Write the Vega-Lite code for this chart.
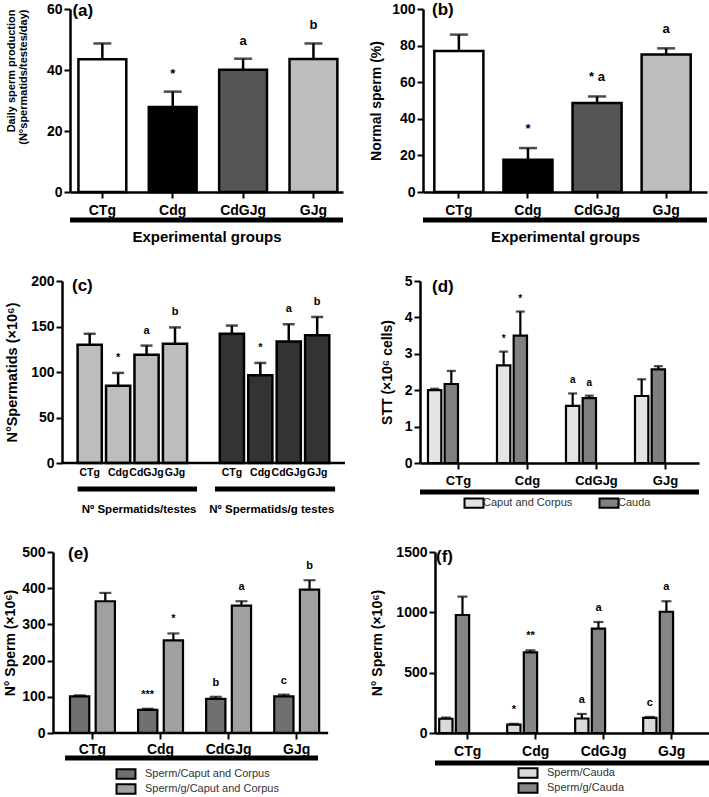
{
  "$schema": "https://vega.github.io/schema/vega-lite/v6.json",
  "padding": {"left": 3, "top": 1, "right": 0, "bottom": 0},
  "background": "white",
  "config": {
    "font": "Liberation Sans",
    "view": {"stroke": null},
    "axis": {"domainColor": "black", "domainWidth": 2.5, "tickColor": "black", "tickWidth": 2, "tickSize": 6, "labelColor": "black", "labelFontWeight": "bold", "titleColor": "black", "titleFontWeight": "bold", "grid": false, "labelAngle": 0},
    "axisY": {"labelFontSize": 14, "titleFontSize": 14},
    "axisX": {"labelFontSize": 14},
    "legend": {"layout": {"bottom": {"anchor": "middle"}}},
    "title": {"color": "black"}
  },
  "datasets": {
    "a": [
      {"g": "CTg", "v": 43.5, "hi": 48.7, "lab": ""},
      {"g": "Cdg", "v": 27.9, "hi": 32.9, "lab": "*"},
      {"g": "CdGJg", "v": 40.1, "hi": 43.7, "lab": "a"},
      {"g": "GJg", "v": 43.6, "hi": 48.7, "lab": "b"}
    ],
    "b": [
      {"g": "CTg", "v": 77, "hi": 86, "lab": ""},
      {"g": "Cdg", "v": 17.6, "hi": 24, "lab": "*"},
      {"g": "CdGJg", "v": 48.6, "hi": 52.2, "lab": "* a"},
      {"g": "GJg", "v": 75.2, "hi": 78.5, "lab": "a"}
    ],
    "c": [
      {"s": "CTg1", "set": "1", "v": 130, "hi": 142, "lab": ""},
      {"s": "Cdg1", "set": "1", "v": 85, "hi": 99, "lab": "*"},
      {"s": "CdGJg1", "set": "1", "v": 119, "hi": 129, "lab": "a"},
      {"s": "GJg1", "set": "1", "v": 131, "hi": 149, "lab": "b"},
      {"s": "CTg2", "set": "2", "v": 142, "hi": 151, "lab": ""},
      {"s": "Cdg2", "set": "2", "v": 96.5, "hi": 110, "lab": "*"},
      {"s": "CdGJg2", "set": "2", "v": 133.5, "hi": 152.5, "lab": "a"},
      {"s": "GJg2", "set": "2", "v": 140.5, "hi": 160.5, "lab": "b"}
    ],
    "d": [
      {"g": "CTg", "ser": "Caput and Corpus", "v": 2.0, "hi": 2.04, "lab": ""},
      {"g": "CTg", "ser": "Cauda", "v": 2.17, "hi": 2.53, "lab": ""},
      {"g": "Cdg", "ser": "Caput and Corpus", "v": 2.68, "hi": 3.06, "lab": "*"},
      {"g": "Cdg", "ser": "Cauda", "v": 3.5, "hi": 4.16, "lab": "*"},
      {"g": "CdGJg", "ser": "Caput and Corpus", "v": 1.57, "hi": 1.91, "lab": "a"},
      {"g": "CdGJg", "ser": "Cauda", "v": 1.78, "hi": 1.85, "lab": "a"},
      {"g": "GJg", "ser": "Caput and Corpus", "v": 1.84, "hi": 2.3, "lab": ""},
      {"g": "GJg", "ser": "Cauda", "v": 2.57, "hi": 2.66, "lab": ""}
    ],
    "e": [
      {"g": "CTg", "ser": "Sperm/Caput and Corpus", "v": 101, "hi": 104, "lab": ""},
      {"g": "CTg", "ser": "Sperm/g/Caput and Corpus", "v": 364, "hi": 387, "lab": ""},
      {"g": "Cdg", "ser": "Sperm/Caput and Corpus", "v": 64, "hi": 67, "lab": "***"},
      {"g": "Cdg", "ser": "Sperm/g/Caput and Corpus", "v": 256, "hi": 275, "lab": "*"},
      {"g": "CdGJg", "ser": "Sperm/Caput and Corpus", "v": 94, "hi": 100, "lab": "b"},
      {"g": "CdGJg", "ser": "Sperm/g/Caput and Corpus", "v": 352, "hi": 364, "lab": "a"},
      {"g": "GJg", "ser": "Sperm/Caput and Corpus", "v": 101, "hi": 106, "lab": "c"},
      {"g": "GJg", "ser": "Sperm/g/Caput and Corpus", "v": 396, "hi": 422, "lab": "b"}
    ],
    "f": [
      {"g": "CTg", "ser": "Sperm/Cauda", "v": 118, "hi": 128, "lab": ""},
      {"g": "CTg", "ser": "Sperm/g/Cauda", "v": 978, "hi": 1130, "lab": ""},
      {"g": "Cdg", "ser": "Sperm/Cauda", "v": 70, "hi": 76, "lab": "*"},
      {"g": "Cdg", "ser": "Sperm/g/Cauda", "v": 668, "hi": 685, "lab": "**"},
      {"g": "CdGJg", "ser": "Sperm/Cauda", "v": 120, "hi": 158, "lab": "a"},
      {"g": "CdGJg", "ser": "Sperm/g/Cauda", "v": 865, "hi": 920, "lab": "a"},
      {"g": "GJg", "ser": "Sperm/Cauda", "v": 125, "hi": 133, "lab": "c"},
      {"g": "GJg", "ser": "Sperm/g/Cauda", "v": 1005, "hi": 1092, "lab": "a"}
    ]
  },
  "resolve": {"scale": {"fill": "independent", "xOffset": "independent"}, "legend": {"fill": "independent"}},
  "spacing": 30,
  "vconcat": [
    {
      "spacing": 23,
      "resolve": {"scale": {"fill": "independent", "xOffset": "independent"}, "legend": {"fill": "independent"}},
      "hconcat": [
        {
          "width": 273, "height": 183,
          "data": {"name": "a"},
          "layer": [
            {"mark": {"type": "bar", "stroke": "black", "strokeWidth": 2.5},
             "encoding": {
               "x": {"field": "g", "type": "nominal", "scale": {"domain": ["CTg", "Cdg", "CdGJg", "GJg"], "paddingInner": 0.32, "paddingOuter": 0.1, "align": 0.6}, "axis": {"title": "Experimental groups", "titleFontSize": 15, "titlePadding": 12, "labelFontSize": 14, "labelPadding": 5, "labelOverlap": false}},
               "y": {"field": "v", "type": "quantitative", "scale": {"domain": [0, 60], "nice": false}, "axis": {"title": ["Daily sperm production", "(N°spermatids/testes/day)"], "titleAnchor": "end", "titleFontSize": 11, "titleLineHeight": 12, "titlePadding": 18, "values": [0, 20, 40, 60], "labelFontSize": 14}},
               "fill": {"field": "g", "type": "nominal", "scale": {"domain": ["CTg", "Cdg", "CdGJg", "GJg"], "range": ["#ffffff", "#000000", "#555555", "#bdbdbd"]}, "legend": null}}},
            {"mark": {"type": "rule", "color": "black", "strokeWidth": 2.5},
             "encoding": {
               "x": {"field": "g", "type": "nominal", "axis": {"title": "Experimental groups", "titleFontSize": 15, "titlePadding": 12, "labelFontSize": 14, "labelPadding": 5, "labelOverlap": false}},
               "y": {"field": "v", "type": "quantitative", "scale": {"domain": [0, 60], "nice": false}, "axis": {"title": ["Daily sperm production", "(N°spermatids/testes/day)"], "titleAnchor": "end", "titleFontSize": 11, "titleLineHeight": 12, "titlePadding": 18, "values": [0, 20, 40, 60], "labelFontSize": 14}},
               "y2": {"field": "hi"}}},
            {"mark": {"type": "tick", "color": "black", "thickness": 2.5, "size": 18},
             "encoding": {
               "x": {"field": "g", "type": "nominal", "axis": {"title": "Experimental groups", "titleFontSize": 15, "titlePadding": 12, "labelFontSize": 14, "labelPadding": 5, "labelOverlap": false}},
               "y": {"field": "hi", "type": "quantitative", "scale": {"domain": [0, 60], "nice": false}, "axis": {"title": ["Daily sperm production", "(N°spermatids/testes/day)"], "titleAnchor": "end", "titleFontSize": 11, "titleLineHeight": 12, "titlePadding": 18, "values": [0, 20, 40, 60], "labelFontSize": 14}}}},
            {"mark": {"type": "text", "fontSize": 13, "fontWeight": "bold", "dy": -14, "baseline": "alphabetic", "color": "black"},
             "encoding": {
               "x": {"field": "g", "type": "nominal", "axis": {"title": "Experimental groups", "titleFontSize": 15, "titlePadding": 12, "labelFontSize": 14, "labelPadding": 5, "labelOverlap": false}},
               "y": {"field": "hi", "type": "quantitative", "scale": {"domain": [0, 60], "nice": false}, "axis": {"title": ["Daily sperm production", "(N°spermatids/testes/day)"], "titleAnchor": "end", "titleFontSize": 11, "titleLineHeight": 12, "titlePadding": 18, "values": [0, 20, 40, 60], "labelFontSize": 14}},
               "text": {"field": "lab"}}},
            {"data": {"values": [{}]}, "mark": {"type": "rule", "color": "black", "strokeWidth": 5},
             "encoding": {"y": {"datum": -9.2, "type": "quantitative", "scale": {"domain": [0, 60], "nice": false}, "axis": {"title": ["Daily sperm production", "(N°spermatids/testes/day)"], "titleAnchor": "end", "titleFontSize": 11, "titleLineHeight": 12, "titlePadding": 18, "values": [0, 20, 40, 60], "labelFontSize": 14}}}},
            {"data": {"values": [{}]}, "mark": {"type": "text", "text": "(a)", "fontSize": 17, "fontWeight": "bold", "align": "left", "baseline": "middle", "dx": -6, "dy": 2, "color": "black"},
             "encoding": {
               "x": {"datum": "CTg", "type": "nominal", "bandPosition": 0, "axis": {"title": "Experimental groups", "titleFontSize": 15, "titlePadding": 12, "labelFontSize": 14, "labelPadding": 5, "labelOverlap": false}},
               "y": {"datum": 60, "type": "quantitative", "scale": {"domain": [0, 60], "nice": false}, "axis": {"title": ["Daily sperm production", "(N°spermatids/testes/day)"], "titleAnchor": "end", "titleFontSize": 11, "titleLineHeight": 12, "titlePadding": 18, "values": [0, 20, 40, 60], "labelFontSize": 14}}}}
          ]
        },
        {
          "width": 284, "height": 183,
          "data": {"name": "b"},
          "layer": [
            {"mark": {"type": "bar", "stroke": "black", "strokeWidth": 2.5},
             "encoding": {
               "x": {"field": "g", "type": "nominal", "scale": {"domain": ["CTg", "Cdg", "CdGJg", "GJg"], "paddingInner": 0.29, "paddingOuter": 0.2, "align": 0.41}, "axis": {"title": "Experimental groups", "titleFontSize": 15, "titlePadding": 12, "labelFontSize": 14, "labelPadding": 5, "labelOverlap": false}},
               "y": {"field": "v", "type": "quantitative", "scale": {"domain": [0, 100], "nice": false}, "axis": {"title": "Normal sperm (%)", "titleFontSize": 14, "titlePadding": 8, "values": [0, 20, 40, 60, 80, 100], "labelFontSize": 14}},
               "fill": {"field": "g", "type": "nominal", "scale": {"domain": ["CTg", "Cdg", "CdGJg", "GJg"], "range": ["#ffffff", "#000000", "#555555", "#bdbdbd"]}, "legend": null}}},
            {"mark": {"type": "rule", "color": "black", "strokeWidth": 2.5},
             "encoding": {
               "x": {"field": "g", "type": "nominal", "axis": {"title": "Experimental groups", "titleFontSize": 15, "titlePadding": 12, "labelFontSize": 14, "labelPadding": 5, "labelOverlap": false}},
               "y": {"field": "v", "type": "quantitative", "scale": {"domain": [0, 100], "nice": false}, "axis": {"title": "Normal sperm (%)", "titleFontSize": 14, "titlePadding": 8, "values": [0, 20, 40, 60, 80, 100], "labelFontSize": 14}},
               "y2": {"field": "hi"}}},
            {"mark": {"type": "tick", "color": "black", "thickness": 2.5, "size": 18},
             "encoding": {
               "x": {"field": "g", "type": "nominal", "axis": {"title": "Experimental groups", "titleFontSize": 15, "titlePadding": 12, "labelFontSize": 14, "labelPadding": 5, "labelOverlap": false}},
               "y": {"field": "hi", "type": "quantitative", "scale": {"domain": [0, 100], "nice": false}, "axis": {"title": "Normal sperm (%)", "titleFontSize": 14, "titlePadding": 8, "values": [0, 20, 40, 60, 80, 100], "labelFontSize": 14}}}},
            {"mark": {"type": "text", "fontSize": 13, "fontWeight": "bold", "dy": -15, "baseline": "alphabetic", "color": "black"},
             "encoding": {
               "x": {"field": "g", "type": "nominal", "axis": {"title": "Experimental groups", "titleFontSize": 15, "titlePadding": 12, "labelFontSize": 14, "labelPadding": 5, "labelOverlap": false}},
               "y": {"field": "hi", "type": "quantitative", "scale": {"domain": [0, 100], "nice": false}, "axis": {"title": "Normal sperm (%)", "titleFontSize": 14, "titlePadding": 8, "values": [0, 20, 40, 60, 80, 100], "labelFontSize": 14}},
               "text": {"field": "lab"}}},
            {"data": {"values": [{}]}, "mark": {"type": "rule", "color": "black", "strokeWidth": 5},
             "encoding": {"y": {"datum": -15.3, "type": "quantitative", "scale": {"domain": [0, 100], "nice": false}, "axis": {"title": "Normal sperm (%)", "titleFontSize": 14, "titlePadding": 8, "values": [0, 20, 40, 60, 80, 100], "labelFontSize": 14}}}},
            {"data": {"values": [{}]}, "mark": {"type": "text", "text": "(b)", "fontSize": 17, "fontWeight": "bold", "align": "left", "baseline": "middle", "dx": -2.3, "dy": 1, "color": "black"},
             "encoding": {
               "x": {"datum": "CTg", "type": "nominal", "bandPosition": 0, "axis": {"title": "Experimental groups", "titleFontSize": 15, "titlePadding": 12, "labelFontSize": 14, "labelPadding": 5, "labelOverlap": false}},
               "y": {"datum": 100, "type": "quantitative", "scale": {"domain": [0, 100], "nice": false}, "axis": {"title": "Normal sperm (%)", "titleFontSize": 14, "titlePadding": 8, "values": [0, 20, 40, 60, 80, 100], "labelFontSize": 14}}}}
          ]
        }
      ]
    },
    {
      "spacing": 33,
      "resolve": {"scale": {"fill": "independent", "xOffset": "independent"}, "legend": {"fill": "independent"}},
      "hconcat": [
        {
          "width": 275, "height": 182,
          "data": {"name": "c"},
          "layer": [
            {"mark": {"type": "bar", "stroke": "black", "strokeWidth": 2.5},
             "encoding": {
               "x": {"field": "s", "type": "nominal", "scale": {"domain": ["CTg1", "Cdg1", "CdGJg1", "GJg1", "gap", "CTg2", "Cdg2", "CdGJg2", "GJg2"], "paddingInner": 0.15, "paddingOuter": 0.41, "align": 0.326}, "axis": {"title": "\u00a0\u00a0\u00a0\u00a0\u00a0\u00a0\u00a0\u00a0Nº Spermatids/testes\u00a0\u00a0\u00a0\u00a0Nº Spermatids/g testes", "titleFontSize": 11.5, "titlePadding": 26, "labelFontSize": 10.5, "labelPadding": 4, "ticks": false, "domain": false, "labelOverlap": false, "labelExpr": "datum.value == 'gap' ? '' : slice(datum.value, 0, -1)"}},
               "y": {"field": "v", "type": "quantitative", "scale": {"domain": [0, 200], "nice": false}, "axis": {"title": "N°Spermatids (×10⁶)", "titleFontSize": 14.5, "titlePadding": 11, "values": [0, 50, 100, 150, 200], "labelFontSize": 14, "offset": 8}},
               "fill": {"field": "set", "type": "nominal", "scale": {"domain": ["1", "2"], "range": ["#bdbdbd", "#333333"]}, "legend": null}}},
            {"mark": {"type": "rule", "color": "black", "strokeWidth": 2.5},
             "encoding": {
               "x": {"field": "s", "type": "nominal", "axis": {"title": "\u00a0\u00a0\u00a0\u00a0\u00a0\u00a0\u00a0\u00a0Nº Spermatids/testes\u00a0\u00a0\u00a0\u00a0Nº Spermatids/g testes", "titleFontSize": 11.5, "titlePadding": 26, "labelFontSize": 10.5, "labelPadding": 4, "ticks": false, "domain": false, "labelOverlap": false, "labelExpr": "datum.value == 'gap' ? '' : slice(datum.value, 0, -1)"}},
               "y": {"field": "v", "type": "quantitative", "scale": {"domain": [0, 200], "nice": false}, "axis": {"title": "N°Spermatids (×10⁶)", "titleFontSize": 14.5, "titlePadding": 11, "values": [0, 50, 100, 150, 200], "labelFontSize": 14, "offset": 8}},
               "y2": {"field": "hi"}}},
            {"mark": {"type": "tick", "color": "black", "thickness": 2.5, "size": 12},
             "encoding": {
               "x": {"field": "s", "type": "nominal", "axis": {"title": "\u00a0\u00a0\u00a0\u00a0\u00a0\u00a0\u00a0\u00a0Nº Spermatids/testes\u00a0\u00a0\u00a0\u00a0Nº Spermatids/g testes", "titleFontSize": 11.5, "titlePadding": 26, "labelFontSize": 10.5, "labelPadding": 4, "ticks": false, "domain": false, "labelOverlap": false, "labelExpr": "datum.value == 'gap' ? '' : slice(datum.value, 0, -1)"}},
               "y": {"field": "hi", "type": "quantitative", "scale": {"domain": [0, 200], "nice": false}, "axis": {"title": "N°Spermatids (×10⁶)", "titleFontSize": 14.5, "titlePadding": 11, "values": [0, 50, 100, 150, 200], "labelFontSize": 14, "offset": 8}}}},
            {"mark": {"type": "text", "fontSize": 11, "fontWeight": "bold", "dy": -12, "baseline": "alphabetic", "color": "black"},
             "encoding": {
               "x": {"field": "s", "type": "nominal", "axis": {"title": "\u00a0\u00a0\u00a0\u00a0\u00a0\u00a0\u00a0\u00a0Nº Spermatids/testes\u00a0\u00a0\u00a0\u00a0Nº Spermatids/g testes", "titleFontSize": 11.5, "titlePadding": 26, "labelFontSize": 10.5, "labelPadding": 4, "ticks": false, "domain": false, "labelOverlap": false, "labelExpr": "datum.value == 'gap' ? '' : slice(datum.value, 0, -1)"}},
               "y": {"field": "hi", "type": "quantitative", "scale": {"domain": [0, 200], "nice": false}, "axis": {"title": "N°Spermatids (×10⁶)", "titleFontSize": 14.5, "titlePadding": 11, "values": [0, 50, 100, 150, 200], "labelFontSize": 14, "offset": 8}},
               "text": {"field": "lab"}}},
            {"data": {"values": [{}]}, "mark": {"type": "rule", "color": "black", "strokeWidth": 2.5},
             "encoding": {
               "x": {"datum": "CTg1", "type": "nominal", "bandPosition": -0.645, "axis": {"title": "\u00a0\u00a0\u00a0\u00a0\u00a0\u00a0\u00a0\u00a0Nº Spermatids/testes\u00a0\u00a0\u00a0\u00a0Nº Spermatids/g testes", "titleFontSize": 11.5, "titlePadding": 26, "labelFontSize": 10.5, "labelPadding": 4, "ticks": false, "domain": false, "labelOverlap": false, "labelExpr": "datum.value == 'gap' ? '' : slice(datum.value, 0, -1)"}},
               "x2": {"datum": "GJg2", "bandPosition": 1.65},
               "y": {"datum": 0, "type": "quantitative", "scale": {"domain": [0, 200], "nice": false}, "axis": {"title": "N°Spermatids (×10⁶)", "titleFontSize": 14.5, "titlePadding": 11, "values": [0, 50, 100, 150, 200], "labelFontSize": 14, "offset": 8}}}},
            {"data": {"values": [{}]}, "mark": {"type": "rule", "color": "black", "strokeWidth": 5},
             "encoding": {
               "x": {"datum": "CTg1", "type": "nominal", "bandPosition": 0, "axis": {"title": "\u00a0\u00a0\u00a0\u00a0\u00a0\u00a0\u00a0\u00a0Nº Spermatids/testes\u00a0\u00a0\u00a0\u00a0Nº Spermatids/g testes", "titleFontSize": 11.5, "titlePadding": 26, "labelFontSize": 10.5, "labelPadding": 4, "ticks": false, "domain": false, "labelOverlap": false, "labelExpr": "datum.value == 'gap' ? '' : slice(datum.value, 0, -1)"}},
               "x2": {"datum": "GJg1", "bandPosition": 1.41},
               "y": {"datum": -28.6, "type": "quantitative", "scale": {"domain": [0, 200], "nice": false}, "axis": {"title": "N°Spermatids (×10⁶)", "titleFontSize": 14.5, "titlePadding": 11, "values": [0, 50, 100, 150, 200], "labelFontSize": 14, "offset": 8}}}},
            {"data": {"values": [{}]}, "mark": {"type": "rule", "color": "black", "strokeWidth": 5},
             "encoding": {
               "x": {"datum": "CTg2", "type": "nominal", "bandPosition": -0.2, "axis": {"title": "\u00a0\u00a0\u00a0\u00a0\u00a0\u00a0\u00a0\u00a0Nº Spermatids/testes\u00a0\u00a0\u00a0\u00a0Nº Spermatids/g testes", "titleFontSize": 11.5, "titlePadding": 26, "labelFontSize": 10.5, "labelPadding": 4, "ticks": false, "domain": false, "labelOverlap": false, "labelExpr": "datum.value == 'gap' ? '' : slice(datum.value, 0, -1)"}},
               "x2": {"datum": "GJg2", "bandPosition": 1.24},
               "y": {"datum": -28.6, "type": "quantitative", "scale": {"domain": [0, 200], "nice": false}, "axis": {"title": "N°Spermatids (×10⁶)", "titleFontSize": 14.5, "titlePadding": 11, "values": [0, 50, 100, 150, 200], "labelFontSize": 14, "offset": 8}}}},
            {"data": {"values": [{}]}, "mark": {"type": "text", "text": "(c)", "fontSize": 17, "fontWeight": "bold", "align": "left", "baseline": "middle", "dx": -5.6, "dy": 5, "color": "black"},
             "encoding": {
               "x": {"datum": "CTg1", "type": "nominal", "bandPosition": 0, "axis": {"title": "\u00a0\u00a0\u00a0\u00a0\u00a0\u00a0\u00a0\u00a0Nº Spermatids/testes\u00a0\u00a0\u00a0\u00a0Nº Spermatids/g testes", "titleFontSize": 11.5, "titlePadding": 26, "labelFontSize": 10.5, "labelPadding": 4, "ticks": false, "domain": false, "labelOverlap": false, "labelExpr": "datum.value == 'gap' ? '' : slice(datum.value, 0, -1)"}},
               "y": {"datum": 200, "type": "quantitative", "scale": {"domain": [0, 200], "nice": false}, "axis": {"title": "N°Spermatids (×10⁶)", "titleFontSize": 14.5, "titlePadding": 11, "values": [0, 50, 100, 150, 200], "labelFontSize": 14, "offset": 8}}}}
          ]
        },
        {
          "width": 279, "height": 182,
          "data": {"name": "d"},
          "layer": [
            {"mark": {"type": "bar", "stroke": "black", "strokeWidth": 2.2},
             "encoding": {
               "x": {"field": "g", "type": "nominal", "scale": {"domain": ["CTg", "Cdg", "CdGJg", "GJg"], "paddingInner": 0.565, "paddingOuter": 0.304, "align": 0.19}, "axis": {"title": null, "labelFontSize": 13, "labelPadding": 5, "tickOffset": 15, "labelOverlap": false}},
               "xOffset": {"field": "ser", "type": "nominal", "scale": {"domain": ["Caput and Corpus", "Cauda"], "paddingInner": 0.2, "paddingOuter": 0}},
               "y": {"field": "v", "type": "quantitative", "scale": {"domain": [0, 5], "nice": false}, "axis": {"title": "STT (×10⁶ cells)", "titleFontSize": 14, "titlePadding": 10, "values": [0, 1, 2, 3, 4, 5], "labelFontSize": 14}},
               "fill": {"field": "ser", "type": "nominal", "scale": {"domain": ["Caput and Corpus", "Cauda"], "range": ["#e4e4e4", "#808080"]},
                        "legend": {"orient": "bottom", "direction": "horizontal", "title": null, "symbolType": "M-2,-1H2V1H-2Z", "symbolSize": 90, "symbolStrokeColor": "black", "symbolStrokeWidth": 2, "labelFontSize": 11, "labelColor": "#333333", "columnPadding": 22, "labelOffset": 3, "offset": 10}}}},
            {"mark": {"type": "rule", "color": "black", "strokeWidth": 2.2},
             "encoding": {
               "x": {"field": "g", "type": "nominal", "axis": {"title": null, "labelFontSize": 13, "labelPadding": 5, "tickOffset": 15, "labelOverlap": false}},
               "xOffset": {"field": "ser", "type": "nominal"},
               "y": {"field": "v", "type": "quantitative", "scale": {"domain": [0, 5], "nice": false}, "axis": {"title": "STT (×10⁶ cells)", "titleFontSize": 14, "titlePadding": 10, "values": [0, 1, 2, 3, 4, 5], "labelFontSize": 14}},
               "y2": {"field": "hi"}}},
            {"mark": {"type": "tick", "color": "black", "thickness": 2.2, "size": 9},
             "encoding": {
               "x": {"field": "g", "type": "nominal", "axis": {"title": null, "labelFontSize": 13, "labelPadding": 5, "tickOffset": 15, "labelOverlap": false}},
               "xOffset": {"field": "ser", "type": "nominal"},
               "y": {"field": "hi", "type": "quantitative", "scale": {"domain": [0, 5], "nice": false}, "axis": {"title": "STT (×10⁶ cells)", "titleFontSize": 14, "titlePadding": 10, "values": [0, 1, 2, 3, 4, 5], "labelFontSize": 14}}}},
            {"mark": {"type": "text", "fontSize": 10, "fontWeight": "bold", "dy": -10, "baseline": "alphabetic", "color": "black"},
             "encoding": {
               "x": {"field": "g", "type": "nominal", "axis": {"title": null, "labelFontSize": 13, "labelPadding": 5, "tickOffset": 15, "labelOverlap": false}},
               "xOffset": {"field": "ser", "type": "nominal"},
               "y": {"field": "hi", "type": "quantitative", "scale": {"domain": [0, 5], "nice": false}, "axis": {"title": "STT (×10⁶ cells)", "titleFontSize": 14, "titlePadding": 10, "values": [0, 1, 2, 3, 4, 5], "labelFontSize": 14}},
               "text": {"field": "lab"}}},
            {"data": {"values": [{}]}, "mark": {"type": "rule", "color": "black", "strokeWidth": 5},
             "encoding": {"y": {"datum": -0.8, "type": "quantitative", "scale": {"domain": [0, 5], "nice": false}, "axis": {"title": "STT (×10⁶ cells)", "titleFontSize": 14, "titlePadding": 10, "values": [0, 1, 2, 3, 4, 5], "labelFontSize": 14}}}},
            {"data": {"values": [{}]}, "mark": {"type": "text", "text": "(d)", "fontSize": 17, "fontWeight": "bold", "align": "left", "baseline": "middle", "dx": 4, "dy": 6, "color": "black"},
             "encoding": {
               "x": {"datum": "CTg", "type": "nominal", "bandPosition": 0, "axis": {"title": null, "labelFontSize": 13, "labelPadding": 5, "tickOffset": 15, "labelOverlap": false}},
               "y": {"datum": 5, "type": "quantitative", "scale": {"domain": [0, 5], "nice": false}, "axis": {"title": "STT (×10⁶ cells)", "titleFontSize": 14, "titlePadding": 10, "values": [0, 1, 2, 3, 4, 5], "labelFontSize": 14}}}}
          ]
        }
      ]
    },
    {
      "spacing": 40,
      "resolve": {"scale": {"fill": "independent", "xOffset": "independent"}, "legend": {"fill": "independent"}},
      "hconcat": [
        {
          "width": 258, "height": 181,
          "data": {"name": "e"},
          "layer": [
            {"mark": {"type": "bar", "stroke": "black", "strokeWidth": 2.2},
             "encoding": {
               "x": {"field": "g", "type": "nominal", "scale": {"domain": ["CTg", "Cdg", "CdGJg", "GJg"], "paddingInner": 0.34, "paddingOuter": 0.065, "align": 0}, "axis": {"title": null, "labelFontSize": 14, "labelPadding": 3, "domain": false, "labelOverlap": false}},
               "xOffset": {"field": "ser", "type": "nominal", "scale": {"domain": ["Sperm/Caput and Corpus", "Sperm/g/Caput and Corpus"], "paddingInner": 0.25, "paddingOuter": 0}},
               "y": {"field": "v", "type": "quantitative", "scale": {"domain": [0, 500], "nice": false}, "axis": {"title": "N° Sperm (×10⁶)", "titleFontSize": 14, "titlePadding": 4, "values": [0, 100, 200, 300, 400, 500], "labelFontSize": 14, "offset": 17}},
               "fill": {"field": "ser", "type": "nominal", "scale": {"domain": ["Sperm/Caput and Corpus", "Sperm/g/Caput and Corpus"], "range": ["#707070", "#a0a0a0"]},
                        "legend": {"orient": "bottom", "direction": "vertical", "title": null, "symbolType": "M-2,-1H2V1H-2Z", "symbolSize": 90, "symbolStrokeColor": "black", "symbolStrokeWidth": 2, "labelFontSize": 11, "labelColor": "#333333", "rowPadding": -6, "labelOffset": 13, "offset": 12}}}},
            {"mark": {"type": "rule", "color": "black", "strokeWidth": 2.2},
             "encoding": {
               "x": {"field": "g", "type": "nominal", "axis": {"title": null, "labelFontSize": 14, "labelPadding": 3, "domain": false, "labelOverlap": false}},
               "xOffset": {"field": "ser", "type": "nominal"},
               "y": {"field": "v", "type": "quantitative", "scale": {"domain": [0, 500], "nice": false}, "axis": {"title": "N° Sperm (×10⁶)", "titleFontSize": 14, "titlePadding": 4, "values": [0, 100, 200, 300, 400, 500], "labelFontSize": 14, "offset": 17}},
               "y2": {"field": "hi"}}},
            {"mark": {"type": "tick", "color": "black", "thickness": 2.2, "size": 12},
             "encoding": {
               "x": {"field": "g", "type": "nominal", "axis": {"title": null, "labelFontSize": 14, "labelPadding": 3, "domain": false, "labelOverlap": false}},
               "xOffset": {"field": "ser", "type": "nominal"},
               "y": {"field": "hi", "type": "quantitative", "scale": {"domain": [0, 500], "nice": false}, "axis": {"title": "N° Sperm (×10⁶)", "titleFontSize": 14, "titlePadding": 4, "values": [0, 100, 200, 300, 400, 500], "labelFontSize": 14, "offset": 17}}}},
            {"mark": {"type": "text", "fontSize": 11, "fontWeight": "bold", "dy": -11, "baseline": "alphabetic", "color": "black"},
             "encoding": {
               "x": {"field": "g", "type": "nominal", "axis": {"title": null, "labelFontSize": 14, "labelPadding": 3, "domain": false, "labelOverlap": false}},
               "xOffset": {"field": "ser", "type": "nominal"},
               "y": {"field": "hi", "type": "quantitative", "scale": {"domain": [0, 500], "nice": false}, "axis": {"title": "N° Sperm (×10⁶)", "titleFontSize": 14, "titlePadding": 4, "values": [0, 100, 200, 300, 400, 500], "labelFontSize": 14, "offset": 17}},
               "text": {"field": "lab"}}},
            {"data": {"values": [{}]}, "mark": {"type": "rule", "color": "black", "strokeWidth": 2.5},
             "encoding": {
               "x": {"datum": "CTg", "type": "nominal", "bandPosition": -0.38, "axis": {"title": null, "labelFontSize": 14, "labelPadding": 3, "domain": false, "labelOverlap": false}},
               "x2": {"datum": "GJg", "bandPosition": 1.2},
               "y": {"datum": 0, "type": "quantitative", "scale": {"domain": [0, 500], "nice": false}, "axis": {"title": "N° Sperm (×10⁶)", "titleFontSize": 14, "titlePadding": 4, "values": [0, 100, 200, 300, 400, 500], "labelFontSize": 14, "offset": 17}}}},
            {"data": {"values": [{}]}, "mark": {"type": "rule", "color": "black", "strokeWidth": 5},
             "encoding": {
               "x": {"datum": "CTg", "type": "nominal", "bandPosition": -0.11, "axis": {"title": null, "labelFontSize": 14, "labelPadding": 3, "domain": false, "labelOverlap": false}},
               "x2": {"datum": "GJg", "bandPosition": 0.975},
               "y": {"datum": -69, "type": "quantitative", "scale": {"domain": [0, 500], "nice": false}, "axis": {"title": "N° Sperm (×10⁶)", "titleFontSize": 14, "titlePadding": 4, "values": [0, 100, 200, 300, 400, 500], "labelFontSize": 14, "offset": 17}}}},
            {"data": {"values": [{}]}, "mark": {"type": "text", "text": "(e)", "fontSize": 17, "fontWeight": "bold", "align": "left", "baseline": "middle", "dx": -2, "dy": 2, "color": "black"},
             "encoding": {
               "x": {"datum": "CTg", "type": "nominal", "bandPosition": 0, "axis": {"title": null, "labelFontSize": 14, "labelPadding": 3, "domain": false, "labelOverlap": false}},
               "y": {"datum": 500, "type": "quantitative", "scale": {"domain": [0, 500], "nice": false}, "axis": {"title": "N° Sperm (×10⁶)", "titleFontSize": 14, "titlePadding": 4, "values": [0, 100, 200, 300, 400, 500], "labelFontSize": 14, "offset": 17}}}}
          ]
        },
        {
          "width": 276, "height": 181,
          "data": {"name": "f"},
          "layer": [
            {"mark": {"type": "bar", "stroke": "black", "strokeWidth": 2.2},
             "encoding": {
               "x": {"field": "g", "type": "nominal", "scale": {"domain": ["CTg", "Cdg", "CdGJg", "GJg"], "paddingInner": 0.56, "paddingOuter": 0.31, "align": 0.1}, "axis": {"title": null, "labelFontSize": 14, "labelPadding": 5, "tickOffset": 13, "labelOverlap": false}},
               "xOffset": {"field": "ser", "type": "nominal", "scale": {"domain": ["Sperm/Cauda", "Sperm/g/Cauda"], "paddingInner": 0.2, "paddingOuter": 0}},
               "y": {"field": "v", "type": "quantitative", "scale": {"domain": [0, 1500], "nice": false}, "axis": {"title": "N° Sperm (×10⁶)", "titleFontSize": 14, "titlePadding": 11, "values": [0, 500, 1000, 1500], "format": "d", "labelFontSize": 14}},
               "fill": {"field": "ser", "type": "nominal", "scale": {"domain": ["Sperm/Cauda", "Sperm/g/Cauda"], "range": ["#dadada", "#858585"]},
                        "legend": {"orient": "bottom", "direction": "vertical", "title": null, "symbolType": "M-2,-1H2V1H-2Z", "symbolSize": 90, "symbolStrokeColor": "black", "symbolStrokeWidth": 2, "labelFontSize": 11, "labelColor": "#333333", "rowPadding": -6, "labelOffset": 13, "offset": 9}}}},
            {"mark": {"type": "rule", "color": "black", "strokeWidth": 2.2},
             "encoding": {
               "x": {"field": "g", "type": "nominal", "axis": {"title": null, "labelFontSize": 14, "labelPadding": 5, "tickOffset": 13, "labelOverlap": false}},
               "xOffset": {"field": "ser", "type": "nominal"},
               "y": {"field": "v", "type": "quantitative", "scale": {"domain": [0, 1500], "nice": false}, "axis": {"title": "N° Sperm (×10⁶)", "titleFontSize": 14, "titlePadding": 11, "values": [0, 500, 1000, 1500], "format": "d", "labelFontSize": 14}},
               "y2": {"field": "hi"}}},
            {"mark": {"type": "tick", "color": "black", "thickness": 2.2, "size": 10},
             "encoding": {
               "x": {"field": "g", "type": "nominal", "axis": {"title": null, "labelFontSize": 14, "labelPadding": 5, "tickOffset": 13, "labelOverlap": false}},
               "xOffset": {"field": "ser", "type": "nominal"},
               "y": {"field": "hi", "type": "quantitative", "scale": {"domain": [0, 1500], "nice": false}, "axis": {"title": "N° Sperm (×10⁶)", "titleFontSize": 14, "titlePadding": 11, "values": [0, 500, 1000, 1500], "format": "d", "labelFontSize": 14}}}},
            {"mark": {"type": "text", "fontSize": 11, "fontWeight": "bold", "dy": -11, "baseline": "alphabetic", "color": "black"},
             "encoding": {
               "x": {"field": "g", "type": "nominal", "axis": {"title": null, "labelFontSize": 14, "labelPadding": 5, "tickOffset": 13, "labelOverlap": false}},
               "xOffset": {"field": "ser", "type": "nominal"},
               "y": {"field": "hi", "type": "quantitative", "scale": {"domain": [0, 1500], "nice": false}, "axis": {"title": "N° Sperm (×10⁶)", "titleFontSize": 14, "titlePadding": 11, "values": [0, 500, 1000, 1500], "format": "d", "labelFontSize": 14}},
               "text": {"field": "lab"}}},
            {"data": {"values": [{}]}, "mark": {"type": "rule", "color": "black", "strokeWidth": 5},
             "encoding": {"y": {"datum": -248.6, "type": "quantitative", "scale": {"domain": [0, 1500], "nice": false}, "axis": {"title": "N° Sperm (×10⁶)", "titleFontSize": 14, "titlePadding": 11, "values": [0, 500, 1000, 1500], "format": "d", "labelFontSize": 14}}}},
            {"data": {"values": [{}]}, "mark": {"type": "text", "text": "(f)", "fontSize": 17, "fontWeight": "bold", "align": "left", "baseline": "middle", "dx": -3.2, "dy": 5, "color": "black"},
             "encoding": {
               "x": {"datum": "CTg", "type": "nominal", "bandPosition": 0, "axis": {"title": null, "labelFontSize": 14, "labelPadding": 5, "tickOffset": 13, "labelOverlap": false}},
               "y": {"datum": 1500, "type": "quantitative", "scale": {"domain": [0, 1500], "nice": false}, "axis": {"title": "N° Sperm (×10⁶)", "titleFontSize": 14, "titlePadding": 11, "values": [0, 500, 1000, 1500], "format": "d", "labelFontSize": 14}}}}
          ]
        }
      ]
    }
  ]
}
